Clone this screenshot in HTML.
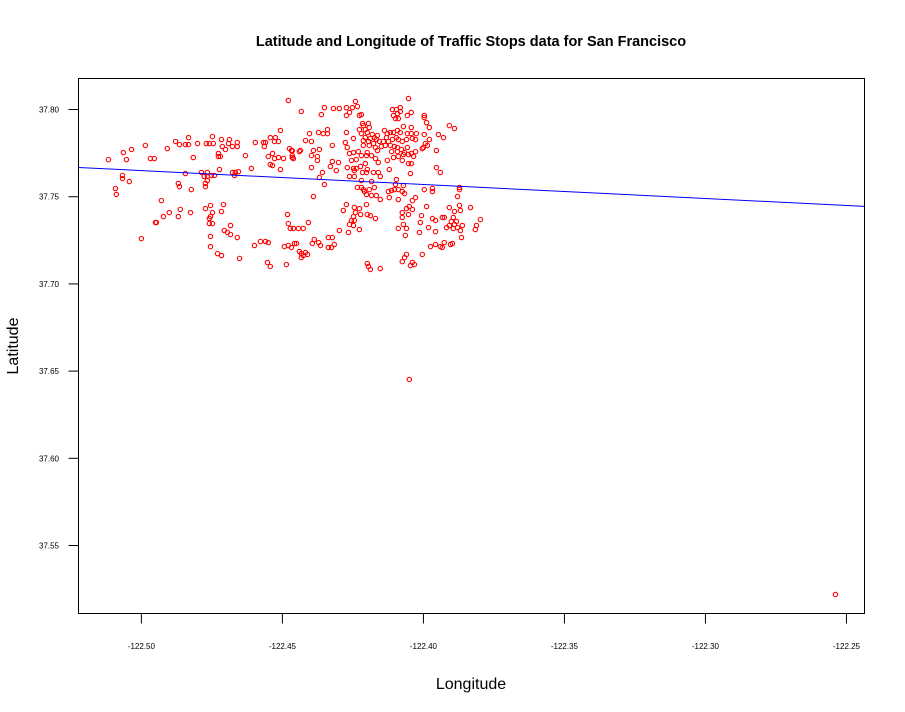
<!DOCTYPE html>
<html><head><meta charset="utf-8"><style>
html,body{margin:0;padding:0;background:#fff;}
svg{display:block;font-family:"Liberation Sans",Arial,sans-serif;}
</style></head><body>
<svg id="chart" width="905" height="712" viewBox="0 0 905 712" xmlns="http://www.w3.org/2000/svg">
<rect width="905" height="712" fill="#fff"/>
<text x="471" y="46" text-anchor="middle" font-size="14.5" font-weight="bold">Latitude and Longitude of Traffic Stops data for San Francisco</text>
<text x="471" y="689" text-anchor="middle" font-size="16">Longitude</text>
<text x="0" y="0" transform="translate(18,346) rotate(-90)" text-anchor="middle" font-size="16">Latitude</text>
<g id="plot"></g>
</svg>
<script>
const lon = [-122.4479,-122.5117,-122.5064,-122.5053,-122.5035,-122.4986,-122.4968,-122.4954,-122.4908,-122.4879,-122.4865,-122.4844,-122.4833,-122.4833,-122.4816,-122.4801,-122.4770,-122.4759,-122.4745,-122.4748,-122.4716,-122.4688,-122.4691,-122.4713,-122.4702,-122.4677,-122.4660,-122.4660,-122.4727,-122.4720,-122.4727,-122.4631,-122.4596,-122.4567,-122.4560,-122.4564,-122.4543,-122.4525,-122.4528,-122.4514,-122.4507,-122.4535,-122.4550,-122.4528,-122.4514,-122.4496,-122.4475,-122.4468,-122.4465,-122.4461,-122.4543,-122.4535,-122.4507,-122.4610,-122.4723,-122.4677,-122.4667,-122.4656,-122.4670,-122.4787,-122.4766,-122.4777,-122.4766,-122.4752,-122.4741,-122.4844,-122.4766,-122.4773,-122.4773,-122.5067,-122.5067,-122.5043,-122.4869,-122.4865,-122.4823,-122.5092,-122.5089,-122.4929,-122.4755,-122.4773,-122.4709,-122.4862,-122.4826,-122.4901,-122.4922,-122.4869,-122.4748,-122.4755,-122.4759,-122.4759,-122.4748,-122.4716,-122.4950,-122.4947,-122.4684,-122.4706,-122.4695,-122.4684,-122.4660,-122.4755,-122.4755,-122.5000,-122.4730,-122.4716,-122.4652,-122.4599,-122.4578,-122.4560,-122.4550,-122.4553,-122.4543,-122.4486,-122.4482,-122.4479,-122.4472,-122.4461,-122.4493,-122.4479,-122.4468,-122.4457,
-122.4053,-122.4241,-122.4351,-122.4319,-122.4298,-122.4273,-122.4252,-122.4234,-122.4433,-122.4362,-122.4273,-122.4262,-122.4227,-122.4220,-122.4110,-122.4096,-122.4082,-122.4082,-122.4092,-122.4106,-122.4089,-122.4099,-122.4057,-122.4043,-122.3997,-122.3997,-122.3989,-122.3979,-122.3908,-122.3890,-122.4216,-122.4195,-122.4213,-122.4192,-122.4206,-122.4227,-122.4220,-122.4199,-122.4071,-122.4043,-122.4043,-122.4057,-122.4092,-122.4117,-122.4106,-122.4082,-122.4138,-122.4128,-122.4340,-122.4340,-122.4355,-122.4372,-122.4404,-122.4273,-122.4248,-122.4277,-122.4270,-122.4025,-122.3997,-122.3979,-122.3947,-122.3929,-122.4181,-122.4174,-122.4163,-122.4167,-122.4188,-122.4206,-122.4213,-122.4195,-122.4177,-122.4156,-122.4142,-122.4124,-122.4131,-122.4110,-122.4096,-122.4089,-122.4075,-122.4060,-122.4039,-122.4028,-122.4418,-122.4397,-122.4323,-122.3993,-122.4000,-122.3954,-122.4465,-122.4440,-122.4436,-122.4390,-122.4369,-122.4376,-122.4397,-122.4376,-122.4213,-122.4192,-122.4170,-122.4149,-122.4135,-122.4117,-122.4103,-122.4092,-122.4078,-122.4057,-122.4163,-122.4199,-122.4231,-122.4248,-122.4262,-122.4113,-122.4092,-122.4067,-122.4043,-122.4028,-122.4004,-122.3986,-122.4465,-122.4255,-122.4238,-122.4220,-122.4202,-122.4184,-122.4170,-122.4160,-122.4128,-122.4106,-122.4089,-122.4071,-122.4053,-122.4035,-122.4075,-122.4053,-122.4043,-122.4323,-122.4301,-122.4330,-122.4309,-122.4397,-122.4270,-122.4248,-122.4238,-122.4223,-122.4206,-122.4199,-122.4202,-122.4216,-122.4245,-122.4262,-122.4245,-122.4177,-122.4160,-122.4121,-122.4153,-122.4046,-122.3954,-122.3940,-122.4358,-122.4369,-122.4351,-122.4220,-122.4184,-122.4096,-122.4099,-122.4071,-122.4234,-122.4220,-122.4213,-122.4192,-122.4174,-122.4167,-122.4153,-122.4184,-122.4202,-122.4209,-122.4124,-122.4113,-122.4103,-122.4089,-122.4075,-122.4067,-122.4089,-122.4121,-122.3997,-122.3968,-122.3968,-122.3872,-122.3872,-122.3879,-122.4390,-122.4028,-122.4039,-122.4050,-122.4060,-122.4039,-122.4075,-122.4075,-122.4053,-122.4202,-122.4273,-122.4284,-122.4245,-122.4227,-122.4241,-122.4223,-122.4248,-122.4199,-122.4188,-122.4170,-122.4245,-122.4255,-122.4262,-122.4248,-122.4227,-122.4266,-122.4298,-122.3989,-122.4007,-122.3968,-122.4011,-122.3957,-122.3982,-122.3957,-122.3933,-122.3926,-122.3908,-122.3890,-122.3872,-122.3869,-122.3894,-122.3901,-122.3908,-122.3918,-122.3890,-122.3894,-122.3879,-122.3862,-122.3869,-122.3865,-122.3833,-122.3798,-122.3812,-122.3816,-122.3883,-122.4089,-122.4071,-122.4060,-122.4064,-122.4014,-122.4443,-122.4426,-122.4408,-122.4387,-122.4372,-122.4365,-122.4394,-122.4450,-122.4337,-122.4323,-122.4337,-122.4326,-122.4316,-122.4440,-122.4433,-122.4418,-122.4426,-122.4411,-122.4433,-122.3975,-122.3957,-122.3940,-122.3933,-122.3926,-122.3904,-122.3897,-122.4004,-122.4060,-122.4067,-122.4075,-122.4039,-122.4032,-122.4046,-122.4199,-122.4195,-122.4188,-122.4153,-122.4050,-122.2539];
const lat = [37.8052,37.7713,37.7753,37.7713,37.7771,37.7794,37.7719,37.7719,37.7776,37.7817,37.7799,37.7799,37.7799,37.7839,37.7725,37.7805,37.7805,37.7805,37.7805,37.7845,37.7828,37.7828,37.7805,37.7788,37.7771,37.7788,37.7811,37.7788,37.7748,37.7731,37.7731,37.7736,37.7811,37.7811,37.7811,37.7788,37.7839,37.7839,37.7817,37.7817,37.7880,37.7748,37.7731,37.7719,37.7725,37.7719,37.7776,37.7765,37.7736,37.7719,37.7685,37.7679,37.7656,37.7662,37.7656,37.7639,37.7639,37.7644,37.7622,37.7639,37.7639,37.7616,37.7616,37.7622,37.7622,37.7633,37.7593,37.7576,37.7558,37.7622,37.7604,37.7587,37.7576,37.7558,37.7541,37.7547,37.7513,37.7478,37.7450,37.7432,37.7455,37.7427,37.7409,37.7409,37.7386,37.7386,37.7409,37.7386,37.7375,37.7346,37.7346,37.7415,37.7352,37.7352,37.7335,37.7306,37.7295,37.7283,37.7266,37.7272,37.7214,37.7260,37.7174,37.7163,37.7146,37.7220,37.7243,37.7243,37.7237,37.7123,37.7100,37.7111,37.7398,37.7346,37.7318,37.7318,37.7214,37.7220,37.7209,37.7232,
37.8063,37.8046,37.8011,37.8006,37.8006,37.8011,37.8011,37.8017,37.7989,37.7971,37.7966,37.7983,37.7966,37.7971,37.8000,37.8000,37.8011,37.7989,37.7977,37.7966,37.7948,37.7948,37.7966,37.7983,37.7966,37.7954,37.7925,37.7897,37.7908,37.7891,37.7920,37.7920,37.7908,37.7897,37.7885,37.7885,37.7862,37.7868,37.7903,37.7897,37.7862,37.7862,37.7880,37.7868,37.7868,37.7868,37.7880,37.7862,37.7885,37.7862,37.7862,37.7868,37.7862,37.7868,37.7834,37.7811,37.7782,37.7862,37.7857,37.7828,37.7857,37.7839,37.7857,37.7839,37.7851,37.7828,37.7834,37.7839,37.7822,37.7817,37.7805,37.7817,37.7817,37.7817,37.7839,37.7828,37.7839,37.7828,37.7817,37.7828,37.7834,37.7828,37.7822,37.7817,37.7794,37.7805,37.7782,37.7765,37.7765,37.7759,37.7765,37.7765,37.7771,37.7731,37.7736,37.7708,37.7794,37.7794,37.7782,37.7788,37.7794,37.7794,37.7788,37.7782,37.7771,37.7782,37.7765,37.7753,37.7759,37.7753,37.7748,37.7759,37.7759,37.7753,37.7748,37.7759,37.7776,37.7794,37.7725,37.7708,37.7713,37.7736,37.7736,37.7736,37.7719,37.7696,37.7708,37.7725,37.7731,37.7742,37.7742,37.7731,37.7708,37.7690,37.7690,37.7702,37.7696,37.7673,37.7650,37.7667,37.7667,37.7662,37.7662,37.7673,37.7690,37.7656,37.7639,37.7639,37.7616,37.7616,37.7650,37.7639,37.7639,37.7656,37.7616,37.7633,37.7667,37.7639,37.7639,37.7610,37.7570,37.7593,37.7587,37.7599,37.7570,37.7564,37.7553,37.7553,37.7541,37.7541,37.7553,37.7507,37.7484,37.7507,37.7513,37.7530,37.7530,37.7536,37.7541,37.7541,37.7530,37.7518,37.7484,37.7495,37.7541,37.7547,37.7530,37.7553,37.7541,37.7501,37.7501,37.7495,37.7478,37.7444,37.7432,37.7427,37.7409,37.7381,37.7398,37.7455,37.7455,37.7421,37.7438,37.7432,37.7409,37.7398,37.7386,37.7398,37.7392,37.7375,37.7364,37.7364,37.7341,37.7335,37.7312,37.7295,37.7306,37.7444,37.7392,37.7375,37.7352,37.7364,37.7323,37.7300,37.7381,37.7381,37.7438,37.7415,37.7450,37.7421,37.7381,37.7358,37.7335,37.7323,37.7341,37.7318,37.7323,37.7335,37.7306,37.7266,37.7438,37.7369,37.7335,37.7312,37.7358,37.7318,37.7341,37.7318,37.7278,37.7295,37.7318,37.7318,37.7352,37.7255,37.7237,37.7220,37.7232,37.7232,37.7266,37.7266,37.7209,37.7209,37.7226,37.7186,37.7174,37.7180,37.7163,37.7169,37.7151,37.7214,37.7226,37.7214,37.7209,37.7237,37.7226,37.7232,37.7169,37.7169,37.7151,37.7128,37.7123,37.7111,37.7105,37.7117,37.7100,37.7083,37.7088,37.6452,37.5219];
const xTicks = [-122.50,-122.45,-122.40,-122.35,-122.30,-122.25];
const xTickLabels = ["-122.50","-122.45","-122.40","-122.35","-122.30","-122.25"];
const yTicks = [37.55,37.60,37.65,37.70,37.75,37.80];
const yTickLabels = ["37.55","37.60","37.65","37.70","37.75","37.80"];
const fitIntercept = [27.965];
const fitSlope = [-0.08];

const NS = "http://www.w3.org/2000/svg";
const L = 78.5, R = 864.5, T = 78.5, B = 613.5;
const xMin = -122.5223, xMax = -122.2436, yMin = 37.5110, yMax = 37.8178;
function xs(v){ return L + (v - xMin) / (xMax - xMin) * (R - L); }
function ys(v){ return B - (v - yMin) / (yMax - yMin) * (B - T); }
const g = document.getElementById('plot');
function mk(tag, attrs){ const e = document.createElementNS(NS, tag); for (const k in attrs) e.setAttribute(k, attrs[k]); g.appendChild(e); return e; }

for (let i = 0; i < lon.length; i++) {
  const c = mk('circle', {cx: xs(lon[i]), cy: ys(lat[i]), r: 2.2, fill: 'none', stroke: '#ff0000', 'stroke-width': 1.1});
  
  
}
const x1 = xMin, x2 = xMax;
const fl = mk('line', {x1: xs(x1), y1: ys(fitIntercept[0] + fitSlope[0] * x1), x2: xs(x2), y2: ys(fitIntercept[0] + fitSlope[0] * x2), stroke: '#0000ff', 'stroke-width': 1});



const box = mk('rect', {x: L, y: T, width: R - L, height: B - T, fill: 'none', stroke: '#000', 'stroke-width': 1});



xTicks.forEach((v, i) => {
  const t = mk('line', {x1: xs(v), x2: xs(v), y1: B, y2: B + 10, stroke: '#000'});
  
  
  const tx = mk('text', {x: xs(v), y: 649, 'text-anchor': 'middle', 'font-size': 8, fill: '#000'});
  tx.textContent = xTickLabels[i];
  
  
});
yTicks.forEach((v, i) => {
  const t = mk('line', {x1: L - 10, x2: L, y1: ys(v), y2: ys(v), stroke: '#000'});
  
  
  const tx = mk('text', {x: 59, y: ys(v) + 3, 'text-anchor': 'end', 'font-size': 8, fill: '#000'});
  tx.textContent = yTickLabels[i];
  
  
});
</script>
</body></html>
